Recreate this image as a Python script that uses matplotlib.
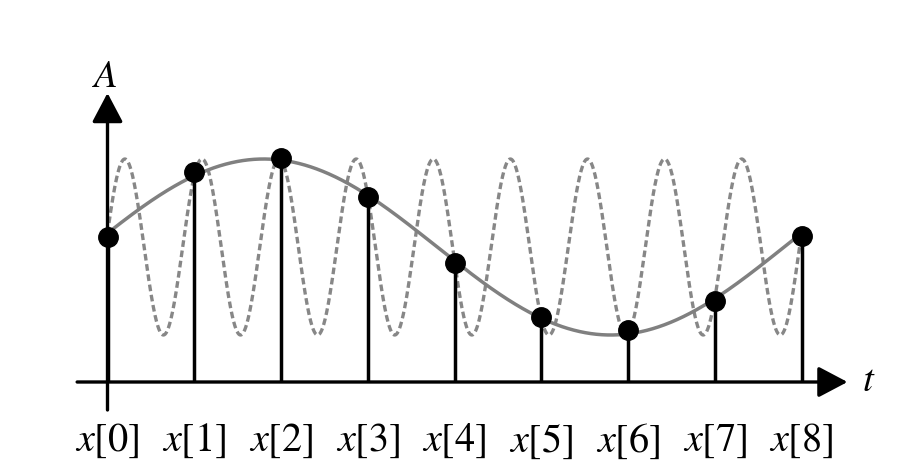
import numpy as np
import matplotlib
matplotlib.use("Agg")
import matplotlib.pyplot as plt

plt.rcParams['mathtext.fontset'] = 'stix'
plt.rcParams['font.family'] = ['STIXGeneral', 'DejaVu Serif']

sample_idx = np.arange(9)
sample_vals = [1.45, 2.10, 2.24, 1.85, 1.19, 0.65, 0.52, 0.81, 1.46]
tick_labels = [r'$x[%d]$' % n for n in sample_idx]

# sinusoid parameters (cycles per sample), both alias to the same samples
slow_freq = 1 / 8
fast_freq = 9 / 8
offset = 1.35
amplitude = 0.88
phase = 0.157

t = np.linspace(0, 8, 2000)
slow = offset + amplitude * np.sin(2 * np.pi * slow_freq * t + phase)
fast = offset + amplitude * np.sin(2 * np.pi * fast_freq * t + phase)

fig = plt.figure(figsize=(9.13, 4.70), dpi=100)
ax = fig.add_axes([0, 0, 1, 1])
# 86.75 px per sample, 100 px per amplitude unit, baseline at y=382 px
ax.set_xlim(-107.5 / 86.75, (913 - 107.5) / 86.75)
ax.set_ylim((382 - 470) / 100, 382 / 100)
ax.axis('off')

ax.plot(t, fast, color='#878787', lw=2.4, ls=(0, (2.0, 1.1)), zorder=1)
ax.plot(t, slow, color='#808080', lw=2.5, zorder=2)

ax.vlines(sample_idx, 0, sample_vals, color='black', lw=2.5, zorder=3)
ax.plot(sample_idx, sample_vals, 'o', color='black', ms=14, zorder=4)

# axes arrows
arrow = dict(arrowstyle='-|>,head_length=18,head_width=9.5', color='black',
             lw=2.4, shrinkA=0, shrinkB=0, mutation_scale=1)
ax.annotate('', xy=(8.53, 0), xytext=(-0.35, 0), arrowprops=arrow, zorder=5)
ax.annotate('', xy=(0, 2.89), xytext=(0, -0.28), arrowprops=arrow, zorder=5)

ax.text(-0.03, 3.04, r'$A$', fontsize=28, ha='center', va='center')
ax.text(8.77, 0.0, r'$t$', fontsize=28, ha='center', va='center')

for n, lab in zip(sample_idx, tick_labels):
    ax.text(n, -0.59, lab, fontsize=29, ha='center', va='center')

fig.savefig('out.png', dpi=100)
